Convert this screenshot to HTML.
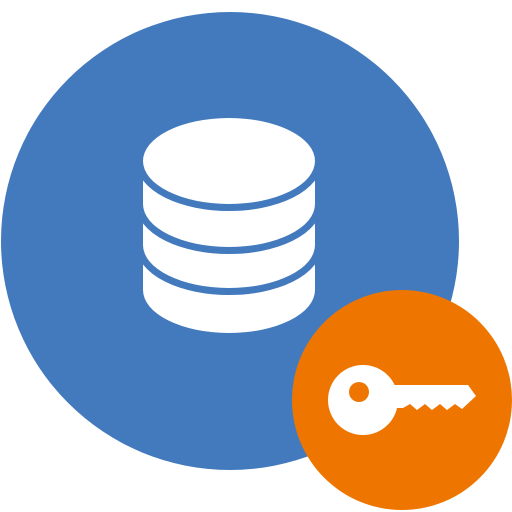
<!DOCTYPE html>
<html><head><style>html,body{margin:0;padding:0;background:#fff}svg{display:block}</style></head>
<body>
<svg width="512" height="512" viewBox="0 0 512 512" xmlns="http://www.w3.org/2000/svg">
<circle cx="230" cy="241" r="229" fill="#437abd"/>
<g fill="#fff" stroke="#437abd" stroke-width="14" paint-order="stroke">
<path d="M143 245 H315 V290 A86 43 0 0 1 143 290 Z"/>
<path d="M143 204 H315 V245 A86 43 0 0 1 143 245 Z"/>
<path d="M143 161 H315 V204 A86 43 0 0 1 143 204 Z"/>
<ellipse cx="229" cy="161" rx="86" ry="43"/>
</g>
<circle cx="402" cy="400" r="110" fill="#ee7600"/>
<g fill="#fff">
<circle cx="363" cy="400" r="35"/>
<path d="M385 385 H468 L476 396 L462 409 L455 404 L447 410 L440 404 L432 410 L425 404 L417 410 L410 404 L403 408 L390 408 Z"/>
</g>
<circle cx="359" cy="392" r="10" fill="#ee7600"/>
</svg>
</body></html>
